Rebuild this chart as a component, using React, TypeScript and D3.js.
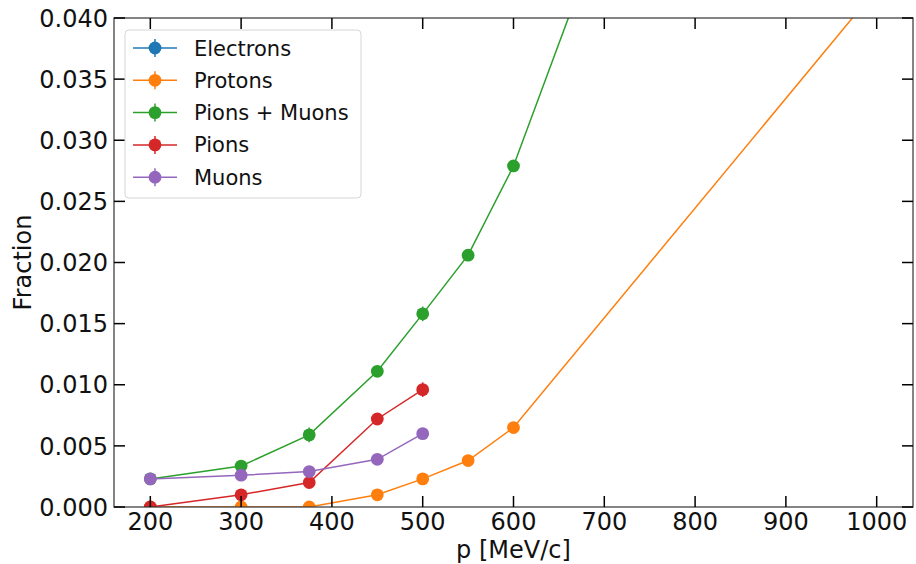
import { useEffect } from "react";
import * as d3 from "d3";

// momentum points (MeV/c)
const momenta = [200, 300, 375, 450, 500, 550, 600, 1000];

const electrons = [0.92, 0.9, 0.88, 0.86, 0.85, 0.84, 0.83, 0.8];
const electronsErr = [0.002, 0.002, 0.002, 0.002, 0.002, 0.002, 0.002, 0.002];

const protons = [0.0, 0.0, 0.0, 0.001, 0.0023, 0.0038, 0.0065, 0.0424];
const protonsErr = [0.0, 0.0, 0.0, 0.0001, 0.0002, 0.0002, 0.0002, 0.0005];

const pionsMuons = [0.0023, 0.00335, 0.0059, 0.0111, 0.0158, 0.0206, 0.0279, 0.108];
const pionsMuonsErr = [0.0002, 0.0002, 0.0006, 0.0003, 0.0006, 0.0003, 0.0003, 0.001];

// pions and muons only measured up to 500
const pionMomenta = [200, 300, 375, 450, 500];
const pions = [0.0, 0.001, 0.002, 0.0072, 0.0096];
const pionsErr = [0.0, 0.0002, 0.0002, 0.0003, 0.0006];
const muons = [0.0023, 0.0026, 0.0029, 0.0039, 0.006];
const muonsErr = [0.0002, 0.0002, 0.0002, 0.0002, 0.0002];

const xTicks = [200, 300, 400, 500, 600, 700, 800, 900, 1000];
const yTicks = [0, 0.005, 0.01, 0.015, 0.02, 0.025, 0.03, 0.035, 0.04];

const series = [
  { name: "Electrons", color: "#1f77b4", x: momenta, y: electrons, err: electronsErr },
  { name: "Protons", color: "#ff7f0e", x: momenta, y: protons, err: protonsErr },
  { name: "Pions + Muons", color: "#2ca02c", x: momenta, y: pionsMuons, err: pionsMuonsErr },
  { name: "Pions", color: "#d62728", x: pionMomenta, y: pions, err: pionsErr },
  { name: "Muons", color: "#9467bd", x: pionMomenta, y: muons, err: muonsErr },
];

const W = 916;
const H = 564;
const margin = { top: 18, right: 3, bottom: 57, left: 114 };
const font = "DejaVu Sans, sans-serif";

export default function App() {
  useEffect(() => {
    document.body.style.margin = "0";
  }, []);

  const x = d3.scaleLinear().domain([160, 1040]).range([margin.left, W - margin.right]);
  const y = d3.scaleLinear().domain([0, 0.04]).range([H - margin.bottom, margin.top]);
  const [x0, x1] = x.range();
  const [y0, y1] = y.range();

  const line = d3
    .line<[number, number]>()
    .x((d) => x(d[0]))
    .y((d) => y(d[1]));

  const tickLen = 11;

  return (
    <svg width={W} height={H} style={{ display: "block", background: "#fff" }} fontFamily={font}>
      <defs>
        <clipPath id="plot">
          <rect x={x0} y={y1} width={x1 - x0} height={y0 - y1} />
        </clipPath>
      </defs>

      <g clipPath="url(#plot)">
        {series.map((s) => {
          const pts = s.x.map((v, i) => [v, s.y[i]] as [number, number]);
          return (
            <g key={s.name}>
              <path d={line(pts) || ""} fill="none" stroke={s.color} strokeWidth={1.5} />
              {pts.map((p, i) => (
                <line
                  key={"e" + i}
                  x1={x(p[0])}
                  x2={x(p[0])}
                  y1={y(p[1] - s.err[i])}
                  y2={y(p[1] + s.err[i])}
                  stroke={s.color}
                  strokeWidth={1.5}
                />
              ))}
              {pts.map((p, i) => (
                <circle key={"m" + i} cx={x(p[0])} cy={y(p[1])} r={6.4} fill={s.color} />
              ))}
            </g>
          );
        })}
      </g>

      {/* frame */}
      <rect x={x0} y={y1} width={x1 - x0} height={y0 - y1} fill="none" stroke="#333" strokeWidth={1.2} />

      {/* x ticks, inside on bottom and top */}
      {xTicks.map((t) => (
        <g key={"x" + t}>
          <line x1={x(t)} x2={x(t)} y1={y0} y2={y0 - tickLen} stroke="#000" strokeWidth={1.5} />
          <line x1={x(t)} x2={x(t)} y1={y1} y2={y1 + tickLen} stroke="#000" strokeWidth={1.5} />
          <text x={x(t)} y={y0 + 5} dy="0.76em" textAnchor="middle" fontSize={24} fill="#111">
            {t}
          </text>
        </g>
      ))}

      {/* y ticks, inside on left and right */}
      {yTicks.map((t) => (
        <g key={"y" + t}>
          <line x1={x0} x2={x0 + tickLen} y1={y(t)} y2={y(t)} stroke="#000" strokeWidth={1.5} />
          <line x1={x1} x2={x1 - tickLen} y1={y(t)} y2={y(t)} stroke="#000" strokeWidth={1.5} />
          <text x={x0 - 6} y={y(t)} dy="0.36em" textAnchor="end" fontSize={24} fill="#111">
            {d3.format(".3f")(t)}
          </text>
        </g>
      ))}

      <text x={(x0 + x1) / 2} y={H - 6} textAnchor="middle" fontSize={24} fill="#111">
        p [MeV/c]
      </text>
      <text
        transform={`translate(31, ${(y0 + y1) / 2}) rotate(-90)`}
        textAnchor="middle"
        fontSize={24}
        fill="#111"
      >
        Fraction
      </text>

      {/* legend */}
      <g transform="translate(125, 30)">
        <rect width={236} height={168} rx={4} fill="#fff" fillOpacity={0.8} stroke="#d6d6d6" strokeWidth={1} />
        {series.map((s, i) => {
          const cy = 18 + i * 32.3;
          return (
            <g key={"l" + s.name}>
              <line x1={8} x2={52} y1={cy} y2={cy} stroke={s.color} strokeWidth={1.5} />
              <line x1={30} x2={30} y1={cy - 9} y2={cy + 9} stroke={s.color} strokeWidth={1.5} />
              <circle cx={30} cy={cy} r={6.4} fill={s.color} />
              <text x={69} y={cy} dy="0.36em" fontSize={21} fill="#111">
                {s.name}
              </text>
            </g>
          );
        })}
      </g>
    </svg>
  );
}
